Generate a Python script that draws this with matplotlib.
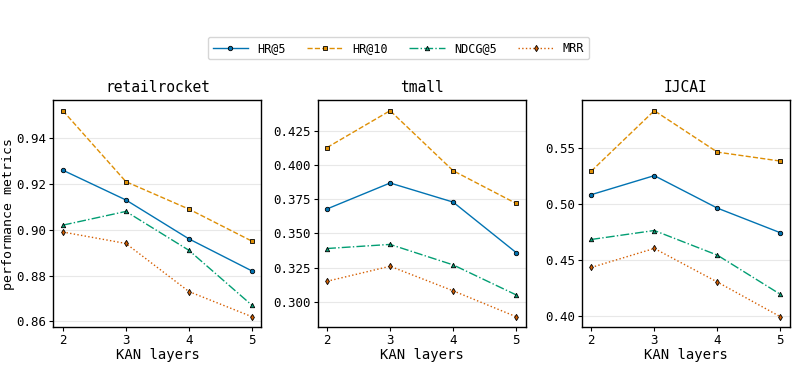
import matplotlib
matplotlib.use("Agg")
import matplotlib.pyplot as plt
from matplotlib.ticker import MultipleLocator, FormatStrFormatter

# KAN layer counts on the x axis
layers = [2, 3, 4, 5]
datasets = ["retailrocket", "tmall", "IJCAI"]
metrics = ["HR@5", "HR@10", "NDCG@5", "MRR"]

# metric values per dataset
retail_hr5 = [0.926, 0.913, 0.896, 0.882]
retail_hr10 = [0.952, 0.921, 0.909, 0.895]
retail_ndcg5 = [0.902, 0.908, 0.891, 0.867]
retail_mrr = [0.899, 0.894, 0.873, 0.862]

tmall_hr5 = [0.368, 0.387, 0.373, 0.336]
tmall_hr10 = [0.413, 0.440, 0.396, 0.372]
tmall_ndcg5 = [0.339, 0.342, 0.327, 0.305]
tmall_mrr = [0.315, 0.326, 0.308, 0.289]

ijcai_hr5 = [0.508, 0.525, 0.496, 0.474]
ijcai_hr10 = [0.529, 0.583, 0.546, 0.538]
ijcai_ndcg5 = [0.468, 0.476, 0.454, 0.419]
ijcai_mrr = [0.443, 0.460, 0.430, 0.399]

values = {
  "retailrocket": [retail_hr5, retail_hr10, retail_ndcg5, retail_mrr],
  "tmall": [tmall_hr5, tmall_hr10, tmall_ndcg5, tmall_mrr],
  "IJCAI": [ijcai_hr5, ijcai_hr10, ijcai_ndcg5, ijcai_mrr],
}

# y tick step and label format per subplot
tick_step = {"retailrocket": 0.02, "tmall": 0.025, "IJCAI": 0.05}
tick_fmt = {"retailrocket": "%.2f", "tmall": "%.3f", "IJCAI": "%.2f"}

colors = ["#0173B2", "#DE8F05", "#029E73", "#D55E00"]
markers = ["o", "s", "^", "d"]
styles = ["-", "--", "-.", ":"]

plt.rcParams['font.family'] = ['DejaVu Sans Mono', 'DejaVu Sans']

fig, axes = plt.subplots(1, 3, figsize=(7.97, 3.65), dpi=100)
fig.subplots_adjust(left=0.067, right=0.991, bottom=0.104, top=0.725, wspace=0.27)

for ax, name in zip(axes, datasets):
  for i, m in enumerate(metrics):
    ax.plot(layers, values[name][i], color=colors[i], linestyle=styles[i],
            linewidth=1.0, marker=markers[i], markersize=3.2,
            markeredgecolor='black', markeredgewidth=0.6, label=m)
  ax.set_title(name, fontsize=10.5)
  ax.set_xticks(layers)
  ax.yaxis.set_major_locator(MultipleLocator(tick_step[name]))
  ax.yaxis.set_major_formatter(FormatStrFormatter(tick_fmt[name]))
  ax.set_xlabel("KAN layers", fontsize=10, labelpad=1)
  ax.grid(axis='y', color='#e8e8e8', linewidth=0.8)
  ax.set_axisbelow(True)
  ax.tick_params(labelsize=9, length=3, pad=2)
  for s in ax.spines.values():
    s.set_color('black')
    s.set_linewidth(1.0)

axes[0].set_ylabel("performance metrics", fontsize=9.5, labelpad=1)

handles, labels = axes[0].get_legend_handles_labels()
fig.legend(handles, labels, loc='center', bbox_to_anchor=(0.5, 0.868), ncol=4,
           fontsize=8.5, frameon=True, handlelength=3.0, columnspacing=1.8,
           edgecolor='#cccccc', fancybox=True)

plt.savefig("out.png", dpi=100)
